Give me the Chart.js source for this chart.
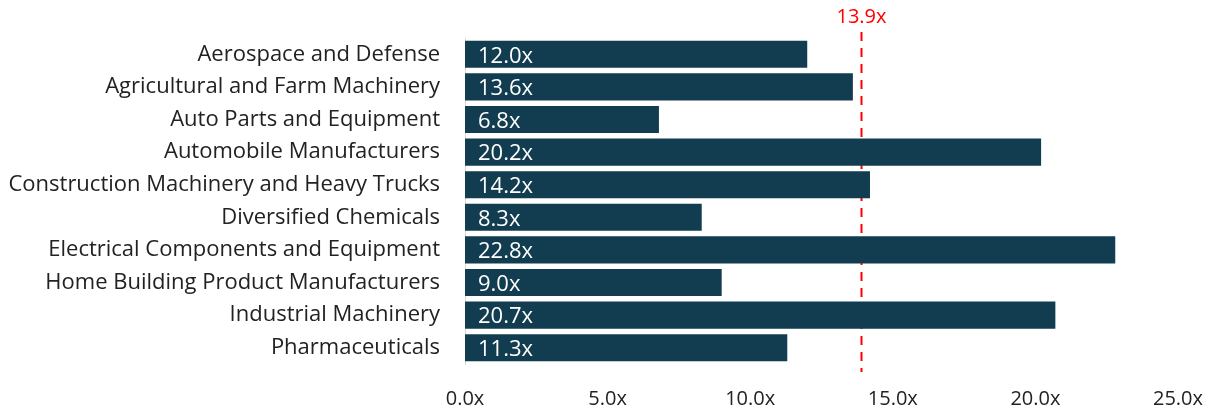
<!DOCTYPE html>
<html>
<head>
<meta charset="utf-8">
<script src="https://cdn.jsdelivr.net/npm/chart.js@4/dist/chart.umd.min.js"></script>
<style>
  html, body { margin: 0; padding: 0; background: #fff; }
  #wrap { width: 1219px; height: 411px; position: relative; }
</style>
</head>
<body>
<div id="wrap"><canvas id="multiples"></canvas></div>
<script>
var categories = [
    'Aerospace and Defense',
    'Agricultural and Farm Machinery',
    'Auto Parts and Equipment',
    'Automobile Manufacturers',
    'Construction Machinery and Heavy Trucks',
    'Diversified Chemicals',
    'Electrical Components and Equipment',
    'Home Building Product Manufacturers',
    'Industrial Machinery',
    'Pharmaceuticals'
];
var multiples = [12.0, 13.6, 6.8, 20.2, 14.2, 8.3, 22.8, 9.0, 20.7, 11.3];
var averageMultiple = 13.9;
var xTicks = [0, 5, 10, 15, 20, 25];

var fontName = "'Open Sans', 'Noto Sans', sans-serif";

// white value labels inside the bars
var barLabels = {
    id: 'barLabels',
    afterDatasetsDraw: function(chart) {
        var ctx = chart.ctx;
        var meta = chart.getDatasetMeta(0);
        ctx.save();
        ctx.fillStyle = '#ffffff';
        ctx.font = '22px ' + fontName;
        ctx.textAlign = 'left';
        ctx.textBaseline = 'middle';
        meta.data.forEach(function(bar, i) {
            ctx.fillText(multiples[i].toFixed(1) + 'x', bar.base + 13, bar.y + 2);
        });
        ctx.restore();
    }
};

// dashed average line, drawn behind the bars
var avgLine = {
    id: 'avgLine',
    beforeDatasetsDraw: function(chart) {
        var ctx = chart.ctx;
        var x = Math.round(chart.scales.x.getPixelForValue(averageMultiple)) + 0.5;
        var area = chart.chartArea;
        ctx.save();
        ctx.strokeStyle = '#ff0000';
        ctx.lineWidth = 2;
        ctx.setLineDash([9, 7]);
        ctx.beginPath();
        ctx.moveTo(x, 32);
        ctx.lineTo(x, area.bottom + 8);
        ctx.stroke();
        ctx.setLineDash([]);
        ctx.fillStyle = '#ff0000';
        ctx.font = '20px ' + fontName;
        ctx.textAlign = 'center';
        ctx.textBaseline = 'middle';
        ctx.fillText(averageMultiple.toFixed(1) + 'x', x, 17);
        ctx.restore();
    }
};

var config = {
    type: 'bar',
    data: {
        labels: categories,
        datasets: [{
            data: multiples,
            backgroundColor: '#123c4f',
            borderWidth: 0,
            barPercentage: 0.83,
            categoryPercentage: 1.0
        }]
    },
    options: {
        indexAxis: 'y',
        responsive: true,
        maintainAspectRatio: false,
        animation: false,
        layout: { padding: { top: 38, right: 41, left: 0, bottom: 0 } },
        plugins: {
            legend: { display: false },
            tooltip: { enabled: false },
            title: { display: false }
        },
        scales: {
            x: {
                min: 0,
                max: 25,
                afterBuildTicks: function(axis) {
                    axis.ticks = xTicks.map(function(v) { return { value: v }; });
                },
                afterFit: function(axis) {
                    axis.height = 47;
                    axis.paddingLeft = 0;
                    axis.paddingRight = 0;
                },
                grid: { display: false, drawTicks: false },
                border: { display: false },
                ticks: {
                    color: '#222222',
                    font: { family: fontName, size: 20 },
                    padding: 23,
                    maxRotation: 0,
                    callback: function(v) { return Number(v).toFixed(1) + 'x'; }
                }
            },
            y: {
                afterFit: function(axis) {
                    axis.width = 465;
                    axis.paddingTop = 0;
                    axis.paddingBottom = 0;
                },
                grid: { display: false, drawTicks: false },
                border: { display: true, color: '#d9d9d9', width: 1 },
                ticks: {
                    color: '#222222',
                    font: { family: fontName, size: 22 },
                    padding: 25
                }
            }
        }
    },
    plugins: [barLabels, avgLine]
};

var ctx = document.getElementById('multiples');
var chart = new Chart(ctx, config);
</script>
</body>
</html>
